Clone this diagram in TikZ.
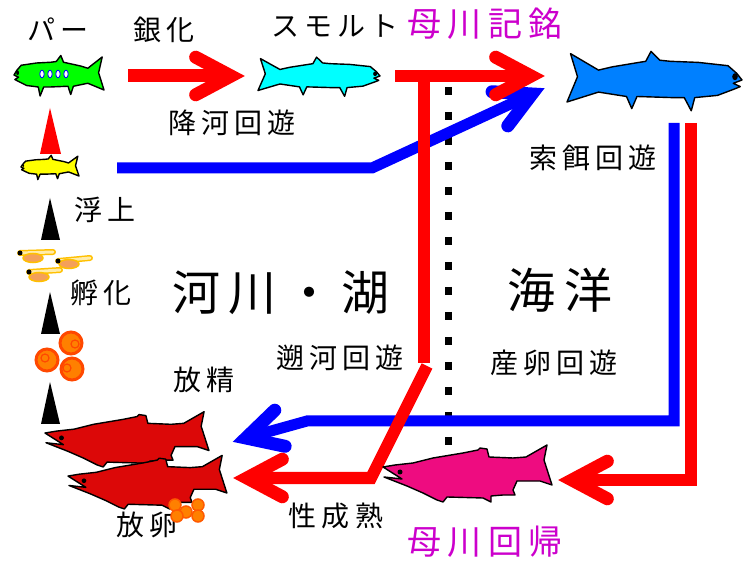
\documentclass[tikz,border=0pt]{standalone}
\usepackage{fontspec}
\newfontfamily\jp{Noto Sans CJK JP}[LetterSpace=18]
\definecolor{momcol}{RGB}{204,0,204}
\definecolor{sockeye}{RGB}{220,8,8}
\definecolor{homing}{RGB}{238,12,128}
\definecolor{ocean}{RGB}{0,128,255}
\definecolor{parrcol}{RGB}{0,255,0}
\definecolor{smoltcol}{RGB}{0,255,255}
\definecolor{alevincol}{RGB}{255,255,0}
\definecolor{eggfill}{RGB}{255,128,0}
\definecolor{eggrim}{RGB}{255,72,0}
\definecolor{yolk}{RGB}{244,160,90}
\definecolor{frybody}{RGB}{255,236,170}
\definecolor{fryrim}{RGB}{255,192,0}

\tikzset{
  fish/.pic={
    \filldraw[fill=#1, draw=black, line width=1.4pt, line join=round]
      (0,0) -- (3,-3) -- (8,-6.5) -- (25,-8) -- (41,-8.5) -- (47,-9) -- (52,-13)
      -- (55,-8.5) -- (74,-6) -- (82,-4.5) -- (98,-12) -- (94,-1.5) -- (100,10)
      -- (82,5.5) -- (66,7.5) -- (63,13) -- (60,7.5) -- (40,8) -- (33,8) -- (29,14)
      -- (27,8) -- (14,7) -- (4,4) -- (1,3) -- (5,1.5) -- cycle;
    \fill (4,-1.5) circle (1.6);
  },
  kype/.pic={
    \filldraw[fill=#1, draw=black, line width=1.4pt, line join=round]
      (0,-1) -- (12,-3) -- (30,-5) -- (50,-10) -- (80,-15) -- (95,-18) -- (97,-20)
      -- (104,-19) -- (106,-11) -- (130,-10) -- (143,-11) -- (164,-23) -- (161,-8)
      -- (169,17) -- (157,13) -- (134,13) -- (130,22) -- (132,27) -- (120,27)
      -- (108,28) -- (108,34) -- (100,30) -- (64,29) -- (60,34) -- (54,32)
      -- (40,25) -- (24,18) -- (1,9) -- (19,11) -- cycle;
    \fill (17,4) circle (2.5);
  }
}

\begin{document}
\begin{tikzpicture}[x=1pt,y=-1pt,
  lbl/.style={inner sep=0pt,font=\jp\fontsize{28}{30}\selectfont},
  big/.style={inner sep=0pt,font=\jp\fontsize{48}{50}\selectfont},
  mom/.style={inner sep=0pt,text=momcol,font=\jp\fontsize{34}{36}\selectfont},
  redline/.style={red,line width=12pt},
  blueline/.style={blue,line width=11pt},
  head/.style={line width=13pt,line cap=round,line join=miter},
  egg/.style={fill=eggfill,draw=eggrim,line width=3pt}]
\useasboundingbox (0,0) rectangle (745,561);

% labels
\node[lbl] (parrtxt) at (58,29) {パー};
\node[lbl] (gintxt) at (164,30) {銀化};
\node[lbl] (smolttxt) at (335,26) {スモルト};
\node[mom] (kimei) at (485,24) {母川記銘};
\node[lbl] (kouka) at (232,123) {降河回遊};
\node[lbl] (sakuji) at (593,158) {索餌回遊};
\node[lbl] (fujou) at (105,210) {浮上};
\node[lbl] (fuka) at (101,293) {孵化};
\node[big] (kasen) at (281,293) {河川・湖};
\node[big] (kaiyou) at (560,290) {海洋};
\node[lbl] (sokou) at (340,358) {遡河回遊};
\node[lbl] (sanran) at (554,363) {産卵回遊};
\node[lbl] (housei) at (204,380) {放精};
\node[lbl] (hourann) at (147,525) {放卵};
\node[lbl] (seijuku) at (336,516) {性成熟};
\node[mom] (kaiki) at (485,542) {母川回帰};

% river / sea border
\draw[line width=7pt,dash pattern=on 8pt off 17pt] (448,87) -- (448,455);

% arrow ends
\coordinate (parrR) at (128,76);
\coordinate (smoltL) at (231,76);
\coordinate (smoltR) at (395,76);
\coordinate (oceanL) at (531,76);
\coordinate (alevinR) at (117,168);
\coordinate (blueBend) at (372,168);
\coordinate (oceanLow) at (532,94);
\coordinate (blueTop) at (674,123);
\coordinate (blueCorner) at (674,421);
\coordinate (blueLeft) at (307,421);
\coordinate (spawnUp) at (246,438);
\coordinate (redTop) at (691,123);
\coordinate (redCorner) at (691,480);
\coordinate (homingR) at (572,480);
\coordinate (fork) at (424,76);
\coordinate (forkLow) at (424,363);
\coordinate (diagTop) at (427,366);
\coordinate (diagLow) at (371,478);
\coordinate (spawnLow) at (247,478);

% blue paths
\draw[blueline] (alevinR) -- (blueBend) -- (oceanLow);
\draw[blueline,line join=miter] (blueTop) -- (blueCorner) -- (blueLeft) -- (spawnUp);
\draw[head,blue] (oceanLow) ++(155.2-28:40) -- (oceanLow) -- ++(155.2+28:40);
\draw[head,blue] (spawnUp) ++(-16-28:40) -- (spawnUp) -- ++(-16+28:40);

% red paths
\draw[redline,line width=13pt] (parrR) -- (smoltL);
\draw[redline] (smoltR) -- (oceanL);
\draw[redline] (fork) -- (forkLow);
\draw[redline] (diagTop) -- (diagLow) -- (spawnLow);
\draw[redline,line join=miter] (redTop) -- (redCorner) -- (homingR);
\foreach \v/\d in {smoltL/0, oceanL/0, spawnLow/180, homingR/180}
  \draw[head,red] (\v) ++(\d+152:40) -- (\v) -- ++(\d+208:40);

% life stage marks
\fill[red] (50,108) -- (61,154) -- (40,154) -- cycle;
\foreach \y in {198,292,382}
  \fill (50,\y) -- (60,\y+42) -- (41,\y+42) -- cycle;

% fish
\pic[xscale=.9,yscale=1.5] (parr) at (14,75) {fish=parrcol};
\foreach \x in {42,50,58,66}
  \filldraw[fill=white,draw=blue,line width=.8pt] (\x,74) ellipse (2.2 and 3.8);
\pic[xscale=.58,yscale=.9] (alevin) at (21,167) {fish=alevincol};
\pic[xscale=-1.22,yscale=1.45] (smolt) at (380,76) {fish=smoltcol};
\pic[xscale=-1.75,yscale=2.2] (adult) at (742,80) {fish=ocean};
\pic[scale=.97] (male) at (45,434) {kype=sockeye};
\pic[scale=.94] (female) at (68,477) {kype=sockeye};
\pic (homer) at (383,468) {kype=homing};

% fry
\foreach \ex/\ey/\tx/\ty/\yx/\yy in {20/253/53/252/33/258, 58/261/90/258/69/264, 29/272/60/270/39/277} {
  \draw[fryrim,line width=6pt,line cap=round] (\ex,\ey) -- (\tx,\ty);
  \draw[frybody,line width=3pt,line cap=round] (\ex,\ey) -- (\tx,\ty);
  \filldraw[fill=yolk,draw=fryrim,line width=1.5pt] (\yx,\yy) ellipse (10 and 4.5);
  \fill (\ex,\ey) circle (2.5);
}

% eggs
\foreach \x/\y/\ix/\iy in {71/343/75/344, 47/360/45/358, 72/369/67/368} {
  \filldraw[egg] (\x,\y) circle (11);
  \draw[eggrim,line width=1.2pt] (\ix,\iy) circle (4);
}
\foreach \x/\y in {175/505, 186/512, 198/505, 177/516, 198/516}
  \filldraw[fill=eggfill,draw=eggrim!70!orange,line width=1.5pt] (\x,\y) circle (6);
\end{tikzpicture}
\end{document}
